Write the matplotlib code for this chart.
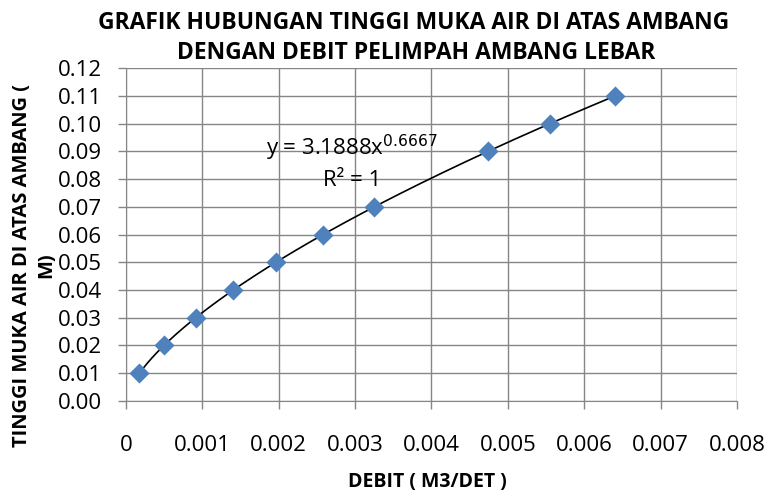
import numpy as np
import matplotlib.pyplot as plt
from matplotlib.ticker import MultipleLocator, FormatStrFormatter

# debit (m3/det) vs tinggi muka air (m)
debit = [0.000176, 0.000497, 0.000913, 0.001405, 0.001963,
         0.002581, 0.003252, 0.004742, 0.005553, 0.006407]
tinggi = [0.01, 0.02, 0.03, 0.04, 0.05, 0.06, 0.07, 0.09, 0.10, 0.11]

# power trendline coefficients (as shown on the chart)
coef_a = 3.1888
coef_b = 0.6667

plt.rcParams['font.family'] = ['Open Sans', 'DejaVu Sans']
grey = '#868686'

fig = plt.figure(figsize=(7.71, 4.99), dpi=100)
ax = fig.add_axes([0.1634, 0.1964, 0.7925, 0.6673])

xs = np.linspace(min(debit), max(debit), 300)
ax.plot(xs, coef_a * xs ** coef_b, color='black', lw=1.2, zorder=2)
ax.scatter(debit, tinggi, marker='D', s=105, color='#4F81BD', zorder=3,
           linewidths=0)

ax.set_xlim(0, 0.008)
ax.set_ylim(0, 0.12)
ax.xaxis.set_major_locator(MultipleLocator(0.001))
ax.yaxis.set_major_locator(MultipleLocator(0.01))
ax.yaxis.set_major_formatter(FormatStrFormatter('%.2f'))
ax.xaxis.set_major_formatter(lambda v, p: '0' if abs(v) < 1e-12 else '%.3f' % v)

ax.grid(True, color=grey, lw=1.0)
ax.set_axisbelow(True)
for s in ['top', 'right']:
    ax.spines[s].set_visible(False)
for s in ['left', 'bottom']:
    ax.spines[s].set_color(grey)
ax.tick_params(axis='both', colors=grey, labelcolor='black', labelsize=16,
               length=5.5, width=1)
ax.tick_params(axis='x', pad=19)
ax.tick_params(axis='y', pad=12)

ax.text(0.00296, 0.0912, 'y = 3.1888x$^{0.6667}$', fontsize=16,
        ha='center', va='center')
ax.text(0.00296, 0.0796, 'R² = 1', fontsize=16, ha='center', va='center')

fig.text(0.536, 0.953, 'GRAFIK HUBUNGAN TINGGI MUKA AIR DI ATAS AMBANG',
         ha='center', va='center', fontsize=16.5, fontweight='bold')
fig.text(0.540, 0.894, 'DENGAN DEBIT PELIMPAH AMBANG LEBAR',
         ha='center', va='center', fontsize=16.5, fontweight='bold')
fig.text(0.5545, 0.035, 'DEBIT ( M3/DET )', ha='center', va='center',
         fontsize=14, fontweight='bold')
fig.text(0.044, 0.468, 'TINGGI MUKA AIR DI ATAS AMBANG (\nM)', rotation=90,
         ha='center', va='center', multialignment='center',
         fontsize=14.5, fontweight='bold', linespacing=1.3)

fig.savefig('out.png', dpi=100)
